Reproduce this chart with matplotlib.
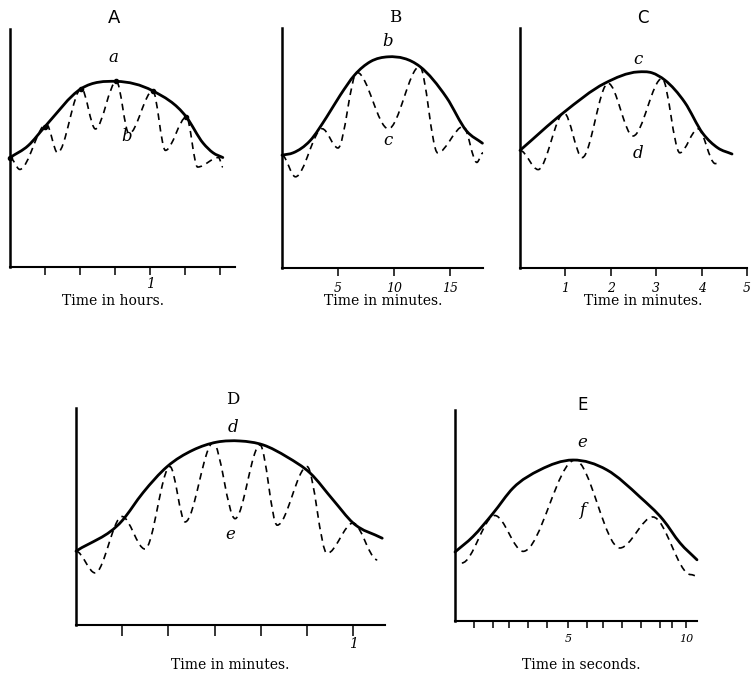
import matplotlib
matplotlib.use('Agg')
import matplotlib.pyplot as plt
from matplotlib.path import Path
from matplotlib.patches import PathPatch

# ---- panel A (time in hours) ----
a_env_t = [0, 0.13, 0.25, 0.51, 0.76, 1.02, 1.26, 1.38, 1.45, 1.52]
a_env_y = [46, 51, 59, 75, 78, 74, 63, 52, 48, 46]
a_wave_t = [0, 0.07, 0.26, 0.34, 0.51, 0.61, 0.76, 0.85, 1.02, 1.11, 1.26, 1.34, 1.49, 1.52]
a_wave_y = [46, 41, 60, 48, 75, 58, 78, 56, 74, 49, 63, 42, 46, 42]
a_dot_t = [0, 0.25, 0.51, 0.76, 1.02, 1.26]
a_dot_y = [46, 59, 75, 78, 74, 63]
a_ticks = [0.25, 0.5, 0.75, 1.0, 1.25, 1.5]
a_ticklabels = ['', '', '', '1', '', '']

# ---- panel B (time in minutes) ----
b_env_t = [0, 1.0, 2.5, 4.0, 5.2, 6.5, 7.9, 9.5, 12.3, 14.7, 16.5, 17.9]
b_env_y = [47, 48, 53, 63, 72, 80.5, 86, 88, 84, 71, 57, 52]
b_wave_t = [0, 1.2, 3.6, 5.0, 6.7, 9.5, 12.3, 13.9, 16.2, 17.4, 17.95]
b_wave_y = [47, 38, 58, 50, 81.5, 58, 84, 48, 59, 44, 48]
b_ticks = [5, 10, 15]
b_ticklabels = ['5', '10', '15']

# ---- panel C (time in minutes) ----
c_env_t = [0, 0.95, 1.87, 2.6, 2.91, 3.19, 3.63, 4.03, 4.36, 4.67]
c_env_y = [49, 64.6, 77, 81.7, 81.3, 78.3, 69, 56, 50, 47.5]
c_wave_t = [0, 0.4, 0.97, 1.37, 1.94, 2.49, 3.13, 3.52, 3.92, 4.3, 4.43]
c_wave_y = [49, 41, 64.6, 46, 77, 55, 79, 48, 58, 43.5, 44]
c_ticks = [1, 2, 3, 4, 5]
c_ticklabels = ['1', '2', '3', '4', '5']

# ---- panel D (time in minutes) ----
d_env_t = [0, 0.166, 0.242, 0.329, 0.422, 0.509, 0.592, 0.675, 0.762, 0.845, 0.928, 1.0, 1.105]
d_env_y = [34, 48, 61, 73, 80.6, 84.3, 84.8, 83, 77.4, 70, 57.6, 47, 40]
d_wave_t = [0, 0.069, 0.166, 0.249, 0.339, 0.394, 0.495, 0.574, 0.664, 0.726, 0.834, 0.906, 1.0, 1.087]
d_wave_y = [34, 24, 50, 35, 73, 47.5, 84, 49, 83, 46, 73, 33, 47, 30]
d_ticks = [1/6, 2/6, 3/6, 4/6, 5/6, 1.0]
d_ticklabels = ['', '', '', '', '', '1']

# ---- panel E (time in seconds) ----
e_env_t = [0.21, 0.97, 1.82, 2.67, 3.81, 5.21, 6.65, 8.05, 9.03, 9.75, 10.47]
e_env_y = [32.7, 40, 51, 63, 71.6, 76.3, 71.6, 58.8, 48, 37, 29]
e_wave_t = [0.5, 1.9, 3.1, 5.3, 7.2, 8.6, 10.2, 10.47]
e_wave_y = [27.5, 50, 33, 76.3, 34.6, 49.3, 22, 21.3]
e_ticks = [1.0, 1.8, 2.5, 3.3, 4.1, 5, 5.8, 6.5, 7.3, 8.1, 8.9, 9.4, 10]
e_ticklabels = ['', '', '', '', '', '5', '', '', '', '', '', '', '10']

W, H = 755, 686
fig = plt.figure(figsize=(W / 100, H / 100), dpi=100)


def add_ax(left, top, right, bottom, xlim):
    ax = fig.add_axes([left / W, 1 - bottom / H, (right - left) / W, (bottom - top) / H])
    ax.set_xlim(*xlim)
    ax.set_ylim(0, 100)
    ax.spines['top'].set_visible(False)
    ax.spines['right'].set_visible(False)
    ax.spines['left'].set_linewidth(1.8)
    ax.spines['bottom'].set_linewidth(1.5)
    ax.set_yticks([])
    ax.tick_params(axis='x', direction='out', length=6, width=1.1, pad=4)
    return ax


def envelope(ax, t, y):
    # smooth line through the points: hermite segments as bezier curves
    n = len(t)
    m = []
    for i in range(n):
        if i == 0:
            m.append((y[1] - y[0]) / (t[1] - t[0]))
        elif i == n - 1:
            m.append((y[-1] - y[-2]) / (t[-1] - t[-2]))
        else:
            h0, h1 = t[i] - t[i - 1], t[i + 1] - t[i]
            s0, s1 = (y[i] - y[i - 1]) / h0, (y[i + 1] - y[i]) / h1
            m.append((s0 * h1 + s1 * h0) / (h0 + h1))
    verts = [(t[0], y[0])]
    codes = [Path.MOVETO]
    for i in range(n - 1):
        dx = t[i + 1] - t[i]
        verts += [(t[i] + dx / 3, y[i] + m[i] * dx / 3),
                  (t[i + 1] - dx / 3, y[i + 1] - m[i + 1] * dx / 3),
                  (t[i + 1], y[i + 1])]
        codes += [Path.CURVE4] * 3
    ax.add_patch(PathPatch(Path(verts, codes), fill=False, lw=2.0, color='black',
                           capstyle='round', clip_on=False))


def wave(ax, t, y):
    # peaks and troughs joined by curves flat at each turning point
    verts = [(t[0], y[0])]
    codes = [Path.MOVETO]
    for i in range(len(t) - 1):
        dx = t[i + 1] - t[i]
        verts += [(t[i] + dx / 3, y[i]), (t[i + 1] - dx / 3, y[i + 1]), (t[i + 1], y[i + 1])]
        codes += [Path.CURVE4] * 3
    ax.add_patch(PathPatch(Path(verts, codes), fill=False, lw=1.2, color='black',
                           linestyle=(0, (4, 3)), clip_on=False))


def ticks(ax, pos, labels, size=9):
    ax.set_xticks(pos)
    ax.set_xticklabels(labels, family='DejaVu Serif', style='italic', fontsize=size)


def label(ax, x, y, s, **kw):
    ax.text(x, y, s, ha='center', va='center', clip_on=False, **kw)


letter = dict(family='DejaVu Serif', style='italic', fontsize=12)

# A
ax = add_ax(10, 29, 235, 267, (0, 1.607))
envelope(ax, a_env_t, a_env_y)
wave(ax, a_wave_t, a_wave_y)
ax.plot(a_dot_t, a_dot_y, 'o', ms=3, color='black', clip_on=False)
ticks(ax, a_ticks, a_ticklabels, size=10)
ax.tick_params(axis='x', pad=1)
label(ax, 0.74, 104.6, 'A', family='DejaVu Sans', fontsize=13)
label(ax, 0.74, 88, 'a', **letter)
label(ax, 0.83, 55, 'b', **letter)

# B
ax = add_ax(282, 28, 483, 268, (0, 17.95))
envelope(ax, b_env_t, b_env_y)
wave(ax, b_wave_t, b_wave_y)
ticks(ax, b_ticks, b_ticklabels)
label(ax, 10.1, 104.2, 'B', family='DejaVu Serif', fontsize=12)
label(ax, 9.46, 94.2, 'b', **letter)
label(ax, 9.46, 53.3, 'c', **letter)

# C
ax = add_ax(520, 28, 747, 268, (0, 5.0))
envelope(ax, c_env_t, c_env_y)
wave(ax, c_wave_t, c_wave_y)
ticks(ax, c_ticks, c_ticklabels)
label(ax, 2.71, 104.2, 'C', family='DejaVu Sans', fontsize=12)
label(ax, 2.6, 86.7, 'c', **letter)
label(ax, 2.6, 47.9, 'd', **letter)

# D
ax = add_ax(76, 408, 385, 625, (0, 1.115))
envelope(ax, d_env_t, d_env_y)
wave(ax, d_wave_t, d_wave_y)
ticks(ax, d_ticks, d_ticklabels, size=10)
ax.tick_params(axis='x', length=8, pad=1)
label(ax, 0.567, 103.7, 'D', family='DejaVu Serif', fontsize=12)
label(ax, 0.567, 90.8, 'd', **letter)
label(ax, 0.556, 41.5, 'e', **letter)

# E
ax = add_ax(455, 410, 697, 621, (0.21, 10.47))
envelope(ax, e_env_t, e_env_y)
wave(ax, e_wave_t, e_wave_y)
ticks(ax, e_ticks, e_ticklabels, size=8)
ax.tick_params(axis='x', length=5)
label(ax, 5.6, 102.4, 'E', family='DejaVu Sans', fontsize=12)
label(ax, 5.6, 84.8, 'e', **letter)
label(ax, 5.6, 52.6, 'f', **letter)

caption = dict(ha='center', va='center', family='DejaVu Serif', fontsize=10)
fig.text(113 / W, 1 - 301 / H, 'Time in hours.', **caption)
fig.text(383 / W, 1 - 301 / H, 'Time in minutes.', **caption)
fig.text(643 / W, 1 - 301 / H, 'Time in minutes.', **caption)
fig.text(230 / W, 1 - 665 / H, 'Time in minutes.', **caption)
fig.text(581 / W, 1 - 665 / H, 'Time in seconds.', **caption)

fig.savefig('out.png', dpi=100)
